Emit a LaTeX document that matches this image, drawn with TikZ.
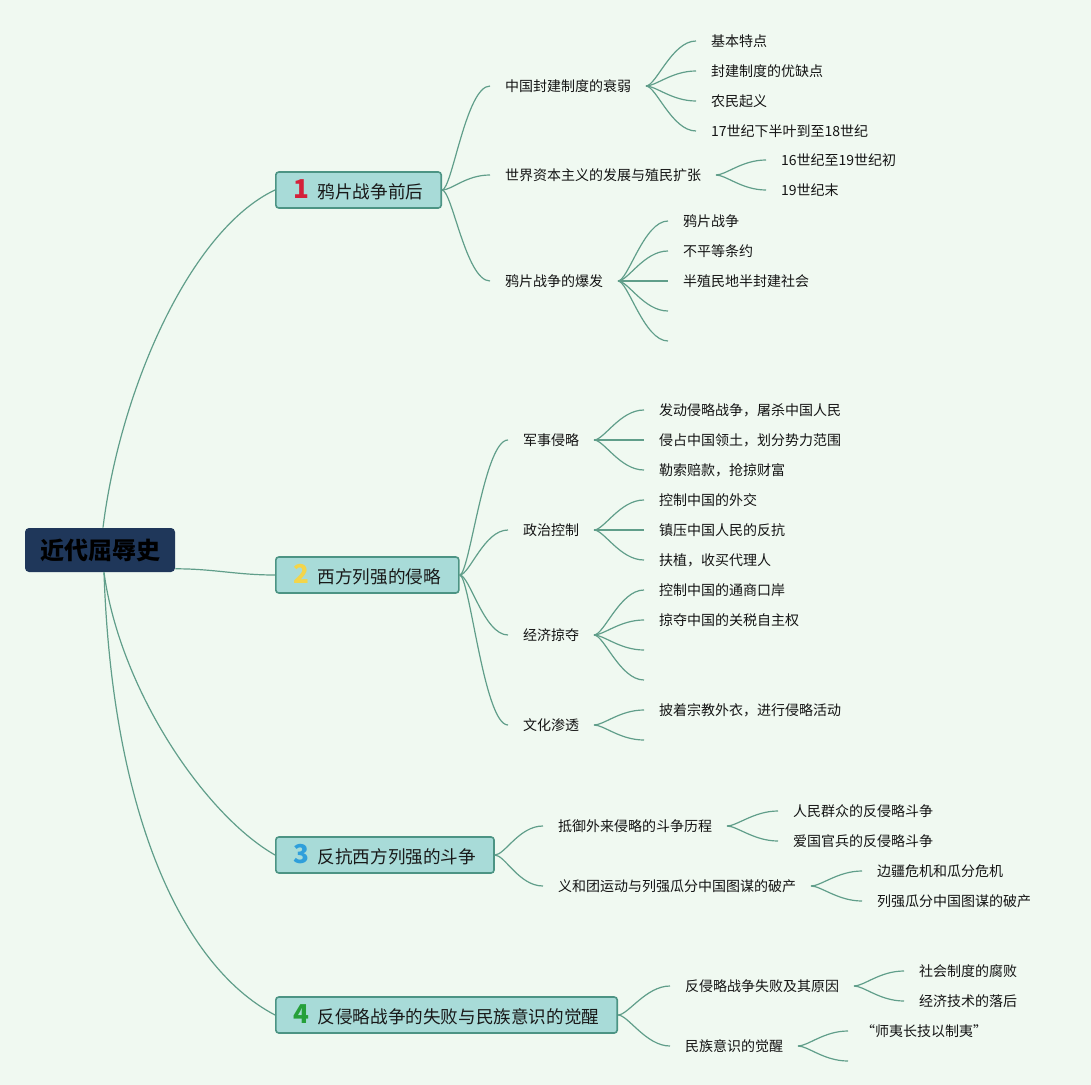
\documentclass[tikz,border=0pt]{standalone}
\usepackage{fontspec}
\setmainfont{Noto Sans CJK SC}
\usetikzlibrary{positioning}
\definecolor{bgmint}{RGB}{240,249,241}
\definecolor{rootnavy}{RGB}{31,55,90}
\definecolor{topicfill}{RGB}{168,219,216}
\definecolor{topicline}{RGB}{76,148,132}
\definecolor{linkgreen}{RGB}{96,158,138}
\definecolor{numred}{RGB}{212,32,58}
\definecolor{numyellow}{RGB}{243,213,74}
\definecolor{numblue}{RGB}{47,159,219}
\definecolor{numgreen}{RGB}{38,160,58}
\tikzset{
  root/.style={fill=rootnavy,rounded corners=2pt,minimum width=75pt,minimum height=22pt,
    inner xsep=7pt,font=\fontsize{12}{14}\selectfont\bfseries,text=black},
  topic/.style={draw=topicline,line width=0.8pt,fill=topicfill,rounded corners=1.5pt,anchor=west,
    minimum height=18pt,inner xsep=9pt,font=\fontsize{8.8}{10}\selectfont,text=black!90},
  sub/.style={anchor=west,inner sep=0pt,outer xsep=7.5pt,font=\fontsize{7}{8}\selectfont,text=black!92},
  link/.style={draw=linkgreen,line width=0.6pt},
  twig/.style={out=0,in=180,out distance=5pt,in distance=12pt}
}
\newcommand{\topicno}[2]{{\color{#1}\fontsize{13}{12}\selectfont\bfseries #2}\hspace{4pt}}

\begin{document}
\begin{tikzpicture}[x=0.5pt,y=-0.5pt]
\fill[bgmint] (0,0) rectangle (1091,1085);
\useasboundingbox (0,0) rectangle (1091,1085);

% root and main topics
\node[root] (root) at (100,550) {近代屈辱史};
\node[topic] (t1) at (275,190) {\topicno{numred}{1}鸦片战争前后};
\node[topic] (t2) at (275,575) {\topicno{numyellow}{2}西方列强的侵略};
\node[topic] (t3) at (275,855) {\topicno{numblue}{3}反抗西方列强的斗争};
\node[topic] (t4) at (275,1015) {\topicno{numgreen}{4}反侵略战争的失败与民族意识的觉醒};

\draw[link] ([xshift=1.5pt]root.north) .. controls (120,390) and (190,230) .. (t1.west);
\draw[link] (root.-14) to[out=0,in=180] (t2.west);
\draw[link] ([xshift=2pt]root.south) .. controls (120,690) and (205,815) .. (t3.west);
\draw[link] ([xshift=2pt]root.south) .. controls (112,810) and (180,965) .. (t4.west);

% 1
\node[sub] (a1) at (490,86) {中国封建制度的衰弱};
\node[sub] (a2) at (490,175) {世界资本主义的发展与殖民扩张};
\node[sub] (a3) at (490,281) {鸦片战争的爆发};
\node[sub] (a11) at (696,41) {基本特点};
\node[sub] (a12) at (696,71) {封建制度的优缺点};
\node[sub] (a13) at (696,101) {农民起义};
\node[sub] (a14) at (696,131) {17世纪下半叶到至18世纪};
\node[sub] (a21) at (766,160) {16世纪至19世纪初};
\node[sub] (a22) at (766,190) {19世纪末};
\node[sub] (a31) at (668,221) {鸦片战争};
\node[sub] (a32) at (668,251) {不平等条约};
\node[sub] (a33) at (668,281) {半殖民地半封建社会};
\coordinate (a34) at (668,311);
\coordinate (a35) at (668,341);

% 2
\node[sub] (b1) at (508,440) {军事侵略};
\node[sub] (b2) at (508,530) {政治控制};
\node[sub] (b3) at (508,635) {经济掠夺};
\node[sub] (b4) at (508,725) {文化渗透};
\node[sub] (b11) at (644,410) {发动侵略战争，屠杀中国人民};
\node[sub] (b12) at (644,440) {侵占中国领土，划分势力范围};
\node[sub] (b13) at (644,470) {勒索赔款，抢掠财富};
\node[sub] (b21) at (644,500) {控制中国的外交};
\node[sub] (b22) at (644,530) {镇压中国人民的反抗};
\node[sub] (b23) at (644,560) {扶植，收买代理人};
\node[sub] (b31) at (644,590) {控制中国的通商口岸};
\node[sub] (b32) at (644,620) {掠夺中国的关税自主权};
\coordinate (b33) at (644,650);
\coordinate (b34) at (644,680);
\node[sub] (b41) at (644,710) {披着宗教外衣，进行侵略活动};
\coordinate (b42) at (644,740);

% 3
\node[sub] (c1) at (543,826) {抵御外来侵略的斗争历程};
\node[sub] (c2) at (543,886) {义和团运动与列强瓜分中国图谋的破产};
\node[sub] (c11) at (778,811) {人民群众的反侵略斗争};
\node[sub] (c12) at (778,841) {爱国官兵的反侵略斗争};
\node[sub] (c21) at (862,871) {边疆危机和瓜分危机};
\node[sub] (c22) at (862,901) {列强瓜分中国图谋的破产};

% 4
\node[sub] (d1) at (670,986) {反侵略战争失败及其原因};
\node[sub] (d2) at (670,1046) {民族意识的觉醒};
\node[sub] (d11) at (904,971) {社会制度的腐败};
\node[sub] (d12) at (904,1001) {经济技术的落后};
\node[sub] (d21) at (846,1031) {“师夷长技以制夷”};
\coordinate (d22) at (848,1061);

\foreach \p/\c in {t1/a1,t1/a2,t1/a3,a1/a11,a1/a12,a1/a13,a1/a14,a2/a21,a2/a22,
    a3/a31,a3/a32,a3/a33,t2/b1,t2/b2,t2/b3,t2/b4,b1/b11,b1/b12,b1/b13,
    b2/b21,b2/b22,b2/b23,b3/b31,b3/b32,b4/b41,t3/c1,t3/c2,c1/c11,c1/c12,
    c2/c21,c2/c22,t4/d1,t4/d2,d1/d11,d1/d12}
  \draw[link] (\p.east) to[twig] (\c.west);
\draw[link] (d2.east) to[twig] ([xshift=1pt]d21.west);
\foreach \p/\c in {a3/a34,a3/a35,b3/b33,b3/b34,b4/b42,d2/d22}
  \draw[link] (\p.east) to[twig] (\c);
\end{tikzpicture}
\end{document}
